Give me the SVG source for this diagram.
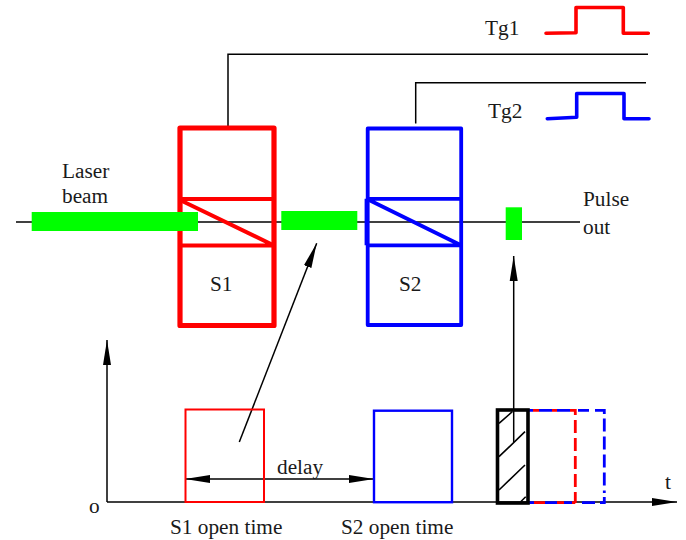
<svg xmlns="http://www.w3.org/2000/svg" width="686" height="540" viewBox="0 0 686 540">
<style>
text{font-family:"Liberation Serif","Times New Roman",serif;font-size:21.3px;fill:#1a1a1a}
.k{fill:none;stroke:#000;stroke-width:1.5}
.r{fill:none;stroke:#f00}
.b{fill:none;stroke:#00f}
.g{fill:#0f0}
.dash{stroke-width:2.8}
.vd{stroke-dasharray:13 5}
.sig{stroke-width:3.6;stroke-linecap:round;stroke-linejoin:round}
.box{stroke-linejoin:round}
</style>
<defs>
<marker id="head" markerUnits="userSpaceOnUse" markerWidth="26" markerHeight="10" refX="25" refY="4" orient="auto-start-reverse" viewBox="0 0 26 8"><path d="M0 0L25 4L0 8Z" fill="#000"/></marker>
</defs>
<g id="connectors">
<line class="k" x1="16" y1="222" x2="580" y2="222"/>
<path class="k" d="M228 126V54.3H648"/>
<path class="k" d="M415.7 123.5V82.7H646"/>
<line class="k" x1="239.3" y1="442" x2="316.7" y2="243.3" marker-end="url(#head)"/>
<line class="k" x1="513.7" y1="442" x2="513.7" y2="256" marker-end="url(#head)"/>
<line class="k" x1="107" y1="502" x2="107" y2="340" marker-end="url(#head)"/>
<line class="k" x1="107" y1="502" x2="677" y2="502" marker-end="url(#head)"/>
<line class="k" x1="185" y1="479" x2="374" y2="479" marker-start="url(#head)" marker-end="url(#head)"/>
</g>
<g id="tg1"><path class="r sig" d="M546 33.3L576 32.7V7.5H623.3V33.3H648.3"/><text x="485" y="35">Tg1</text></g>
<g id="tg2"><path class="b sig" d="M547.3 118.7L576.7 117.3V93.5H624V118.7H649"/><text x="488" y="118">Tg2</text></g>
<g id="laser-label"><text x="62" y="178">Laser</text><text x="62" y="203">beam</text></g>
<g id="pulse-label"><text x="583" y="206">Pulse</text><text x="583" y="234">out</text></g>
<g id="s1">
<rect class="r box" x="180" y="128" width="94" height="197.5" stroke-width="5.2"/>
<path class="r" stroke-width="4" d="M180 199H274M180 245.5H274M180 200L274 245.5"/>
<text x="210" y="291">S1</text>
</g>
<g id="s2">
<rect class="b box" x="367.7" y="128.5" width="93.5" height="196.5" stroke-width="3.8"/>
<path class="b" stroke-width="3.8" d="M366 198.8H461M366 245.3H461M367 199L461 245.3M366.5 198.8V245.3"/>
<text x="399" y="291">S2</text>
</g>
<g id="beam-in"><rect class="g" x="31.7" y="212" width="166.3" height="19"/></g>
<g id="beam-mid"><rect class="g" x="281.3" y="211" width="76" height="19"/></g>
<g id="beam-out"><rect class="g" x="505.7" y="207.3" width="16.3" height="32.7"/></g>
<g id="s1-open"><rect class="r" x="185.5" y="409.5" width="78.5" height="92.5" stroke-width="2"/><text x="170" y="534">S1 open time</text></g>
<g id="s2-open"><rect class="b" x="374" y="410.7" width="78" height="91.5" stroke-width="2.4"/><text x="341" y="534">S2 open time</text></g>
<g id="dashed-windows">
<path class="r dash" d="M533 410.3H539M552 410.3H557M570 410.3H575.3V415M534 502.7H545M557 502.7H564M572 502.7H575.3"/>
<path class="r dash vd" d="M575.3 420V503"/>
<path class="b dash" d="M528 410.3H533M539 410.3H552M557 410.3H570M578 410.3H589M595 410.3H604.3V414M529 502.7H534M545 502.7H557M564 502.7H572M582 502.7H595M600 502.7H604.3V497"/>
<path class="b dash vd" d="M604.3 418.5V493"/>
</g>
<g id="hatched-window">
<path fill="none" stroke="#000" stroke-width="1.6" d="M499 423.3L512.3 411.7M499 456.7L525 431.7M499 490L525 465M520.7 501.7L525.7 496.7"/>
<rect x="497.5" y="410" width="30.5" height="93" fill="none" stroke="#000" stroke-width="3.6"/>
</g>
<g id="labels"><text x="277" y="473.5">delay</text><text x="89" y="513">o</text><text x="665" y="489">t</text></g>
</svg>
